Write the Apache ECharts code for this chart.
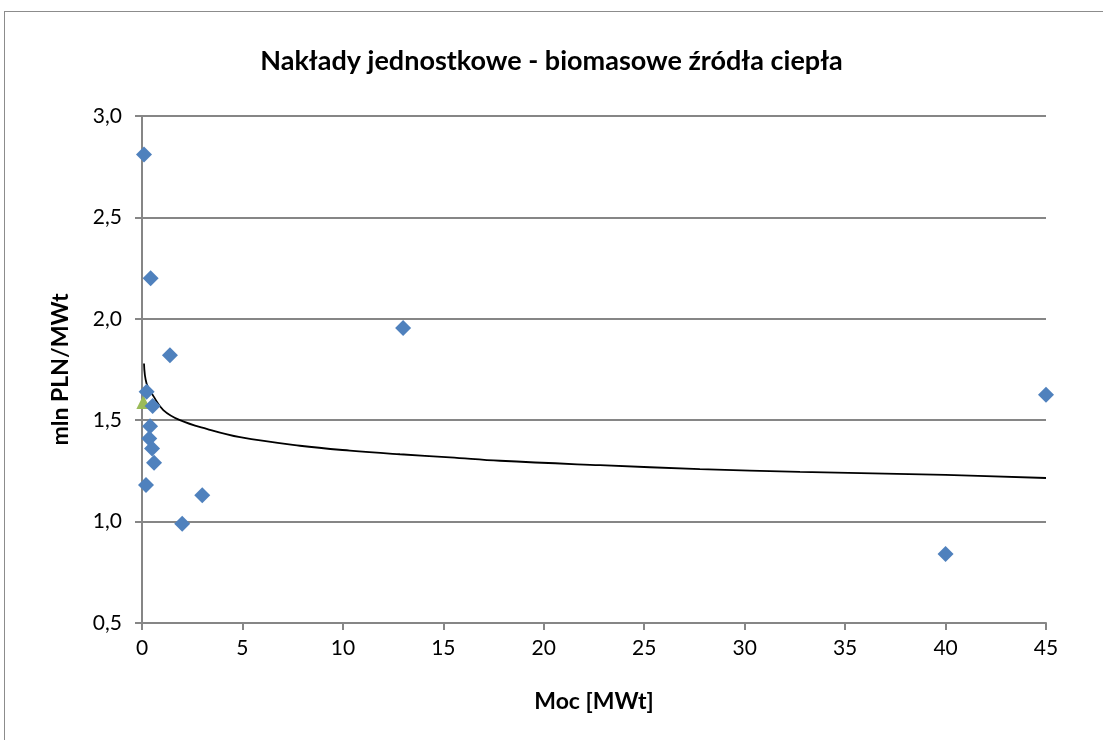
<!DOCTYPE html>
<html>
<head>
<meta charset="utf-8">
<script src="https://cdn.jsdelivr.net/npm/echarts@6/dist/echarts.min.js"></script>
<style>
html, body { margin: 0; padding: 0; background: #fff; }
#frame {
    position: absolute;
    left: 4px;
    top: 11px;
    width: 1110px;
    height: 740px;
    border: 1px solid #8c8c8c;
}
#chart {
    position: absolute;
    left: 0;
    top: 0;
    width: 1103px;
    height: 740px;
}
</style>
</head>
<body>
<div id="frame"></div>
<div id="chart"></div>
<script>
// moc [MWt] i naklady [mln PLN/MWt] - punkty
var mocMWt = [0.1, 0.43, 1.39, 0.23, 0.53, 0.4, 0.36, 0.5, 0.6, 0.2, 3.0, 2.0, 13, 40, 45];
var naklady = [2.81, 2.20, 1.82, 1.64, 1.57, 1.47, 1.41, 1.36, 1.29, 1.18, 1.13, 0.99, 1.955, 0.84, 1.625];

// punkt wyrozniony (zielony)
var mocExtra = [0.07];
var nakladyExtra = [1.59];

// linia trendu
var trendX = [0.1, 0.23, 0.56, 1.06, 1.89, 3.22, 4.88, 7.86, 10.35, 12.84, 15.33, 17.82, 22.8, 27.77, 32.75, 40, 45];
var trendY = [1.78, 1.68, 1.62, 1.55, 1.50, 1.457, 1.416, 1.374, 1.35, 1.332, 1.317, 1.30, 1.278, 1.259, 1.245, 1.23, 1.215];

var yTicks = [0.5, 1.0, 1.5, 2.0, 2.5, 3.0];

var pts = mocMWt.map(function (x, i) { return [x, naklady[i]]; });
var extra = mocExtra.map(function (x, i) { return [x, nakladyExtra[i]]; });
var trend = trendX.map(function (x, i) { return [x, trendY[i]]; });

var font = 'Lato, "Open Sans", sans-serif';
var axisGray = '#868686';

var chart = echarts.init(document.getElementById('chart'));
var option = {
    animation: false,
    title: {
        text: 'Nakłady jednostkowe - biomasowe źródła ciepła',
        left: 'center',
        top: 43,
        textStyle: { fontFamily: font, fontSize: 27, fontWeight: 'bold', color: '#000' }
    },
    grid: { left: 142, right: 57, top: 116, bottom: 117, containLabel: false },
    xAxis: {
        type: 'value',
        min: 0,
        max: 45,
        interval: 5,
        name: 'Moc [MWt]',
        nameLocation: 'middle',
        nameGap: 67,
        nameTextStyle: { fontFamily: font, fontSize: 23, fontWeight: 'bold', color: '#000' },
        axisLine: { show: true, lineStyle: { color: axisGray, width: 2 } },
        axisTick: { show: true, length: 7, lineStyle: { color: axisGray, width: 2 } },
        axisLabel: { fontFamily: font, fontSize: 21, color: '#000', margin: 15 },
        splitLine: { show: false }
    },
    yAxis: {
        type: 'value',
        min: yTicks[0],
        max: yTicks[yTicks.length - 1],
        interval: 0.5,
        name: 'mln PLN/MWt',
        nameLocation: 'middle',
        nameGap: 70,
        nameRotate: 90,
        nameTextStyle: { fontFamily: font, fontSize: 23, fontWeight: 'bold', color: '#000' },
        axisLine: { show: true, onZero: false, lineStyle: { color: axisGray, width: 2 } },
        axisTick: { show: true, length: 7, lineStyle: { color: axisGray, width: 2 } },
        axisLabel: {
            fontFamily: font, fontSize: 21, color: '#000', margin: 20,
            formatter: function (v) { return v.toFixed(1).replace('.', ','); }
        },
        splitLine: { show: true, lineStyle: { color: axisGray, width: 2 } }
    },
    series: [
        {
            type: 'line',
            data: trend,
            smooth: 0.4,
            showSymbol: false,
            lineStyle: { color: '#000', width: 1.8 },
            z: 3
        },
        {
            type: 'scatter',
            data: extra,
            symbol: 'triangle',
            symbolSize: 14,
            itemStyle: { color: '#9bbb59', opacity: 1 },
            z: 4
        },
        {
            type: 'scatter',
            data: pts,
            symbol: 'diamond',
            symbolSize: 16,
            itemStyle: { color: '#4f81bd', opacity: 1 },
            z: 5
        }
    ]
};
chart.setOption(option);
</script>
</body>
</html>
